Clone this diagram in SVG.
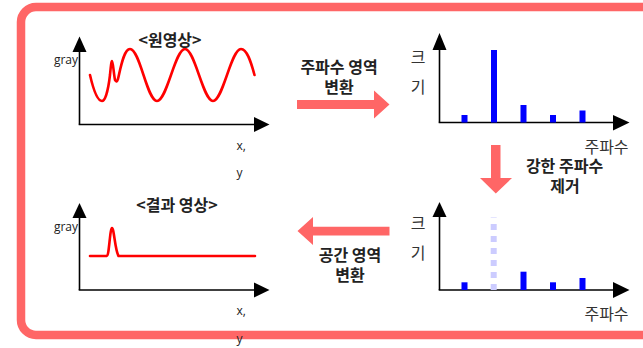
<svg xmlns="http://www.w3.org/2000/svg" width="643" height="348" viewBox="0 0 643 348">
<style>
.frame{fill:none;stroke:#ff6666;stroke-width:8.5}
.axis{stroke:#000;stroke-width:1.6;fill:none}
.head{fill:#000}
.sig{fill:none;stroke:#ff0000;stroke-width:2.6;stroke-linejoin:round;stroke-linecap:round}
.bar{fill:#0000ff}
.ghost{stroke:#ccccff;stroke-width:6;stroke-dasharray:6 6}
.flow{fill:#ff6666}
.kb{font-family:"Noto Sans CJK KR","Noto Sans",sans-serif;font-weight:bold;font-size:16px;fill:#222;text-anchor:middle}
.kr{font-family:"Noto Sans CJK KR","Noto Sans",sans-serif;font-size:16px;fill:#333;text-anchor:middle}
.lt{font-family:"Open Sans","Liberation Sans",sans-serif;font-size:12px;fill:#222}
</style>
<rect class="frame" x="21" y="7" width="640" height="328" rx="15" ry="15"/>

<g id="original-image">
<line class="axis" x1="79.5" y1="51" x2="79.5" y2="124.5"/>
<line class="axis" x1="78.7" y1="124.5" x2="255" y2="124.5"/>
<polygon class="head" points="72.5,52 86.5,52 79.5,36.5"/>
<polygon class="head" points="254,117 254,132 269.5,124.5"/>
<path class="sig" d="M90,75 C93,88 97,101 102,101 C105,101 108,92 110,75 C111,64 111.5,61 112,61 C113,61 113.5,72 115,80 C116,82 117,82 118,79 C121,66 124,49 130,49 C140,49 147,101 157,101 C167,101 175,49 185,49 C195,49 203,101 213,101 C223,101 231,49 241,49 C247,49 251,62 254.5,75"/>
<text class="kb" x="170" y="45.5">&lt;원영상&gt;</text>
<text class="lt" x="78" y="64" text-anchor="end">gray</text>
<text class="lt" x="236.5" y="150">x,</text>
<text class="lt" x="236.5" y="177">y</text>
</g>

<g id="spectrum">
<line class="axis" x1="439.5" y1="49" x2="439.5" y2="122.5"/>
<line class="axis" x1="438.7" y1="122.5" x2="614" y2="122.5"/>
<polygon class="head" points="432.5,50 446.5,50 439.5,33"/>
<polygon class="head" points="613,115 613,130.5 629.5,122.5"/>
<rect class="bar" x="461.5" y="115" width="6" height="7.5"/>
<rect class="bar" x="491" y="50" width="6" height="72.5"/>
<rect class="bar" x="520.5" y="105" width="6" height="17.5"/>
<rect class="bar" x="550" y="115" width="6" height="7.5"/>
<rect class="bar" x="579.5" y="110.5" width="6" height="12"/>
<text class="kr" x="418" y="62.5">크</text>
<text class="kr" x="418" y="92.5">기</text>
<text class="kr" x="606.5" y="152.5">주파수</text>
</g>

<g id="filtered-spectrum">
<line class="axis" x1="439.5" y1="216" x2="439.5" y2="290"/>
<line class="axis" x1="438.7" y1="290" x2="614" y2="290"/>
<polygon class="head" points="432.5,217 446.5,217 439.5,202"/>
<polygon class="head" points="613,282 613,298 629.5,290"/>
<line class="ghost" x1="493.7" y1="290" x2="493.7" y2="217.5"/>
<rect class="bar" x="461.5" y="282.3" width="6" height="7.7"/>
<rect class="bar" x="520.5" y="271.7" width="6" height="18.3"/>
<rect class="bar" x="550" y="282.3" width="6" height="7.7"/>
<rect class="bar" x="579.5" y="278" width="6" height="12"/>
<text class="kr" x="418" y="229">크</text>
<text class="kr" x="418" y="259">기</text>
<text class="kr" x="606.5" y="319.5">주파수</text>
</g>

<g id="result-image">
<line class="axis" x1="79.5" y1="217" x2="79.5" y2="290"/>
<line class="axis" x1="78.7" y1="290" x2="255" y2="290"/>
<polygon class="head" points="72.5,218 86.5,218 79.5,203"/>
<polygon class="head" points="254,282.5 254,297.5 269.5,290"/>
<path class="sig" d="M90,256 L107,256 C109,256 110,228 112,228 C114,228 115,250 118.5,256 L255,256"/>
<text class="kb" x="177" y="210.5">&lt;결과 영상&gt;</text>
<text class="lt" x="78" y="231" text-anchor="end">gray</text>
<text class="lt" x="236.5" y="315">x,</text>
<text class="lt" x="236.5" y="343">y</text>
</g>

<g id="connectors">
<polygon class="flow" points="297,100 374,100 374,90.5 389.5,104.5 374,118.5 374,109 297,109"/>
<polygon class="flow" points="491,145 500.5,145 500.5,178 512,178 495.8,193.5 480,178 491,178"/>
<polygon class="flow" points="389.5,226.7 313,226.7 313,217 297.5,231 313,245 313,235.5 389.5,235.5"/>
<text class="kb" x="339" y="72.5">주파수 영역</text>
<text class="kb" x="339" y="92.5">변환</text>
<text class="kb" x="564.5" y="171.5">강한 주파수</text>
<text class="kb" x="565" y="191.5">제거</text>
<text class="kb" x="350" y="260.5">공간 영역</text>
<text class="kb" x="350" y="280.5">변환</text>
</g>
</svg>
